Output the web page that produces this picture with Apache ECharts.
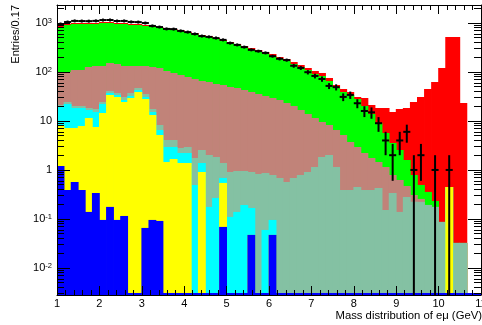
<!DOCTYPE html>
<html><head><meta charset="utf-8">
<script src="https://cdn.jsdelivr.net/npm/echarts@6/dist/echarts.min.js"></script>
<style>html,body{margin:0;padding:0;background:#fff}#c{width:482px;height:325px}</style>
</head><body><div id="c"></div>
<script>
// 60 bins of width 1/6 from 1 to 11 (lower edges)
const binEdges = ['1.00','1.17','1.33','1.50','1.67','1.83','2.00','2.17','2.33','2.50','2.67','2.83',
 '3.00','3.17','3.33','3.50','3.67','3.83','4.00','4.17','4.33','4.50','4.67','4.83',
 '5.00','5.17','5.33','5.50','5.67','5.83','6.00','6.17','6.33','6.50','6.67','6.83',
 '7.00','7.17','7.33','7.50','7.67','7.83','8.00','8.17','8.33','8.50','8.67','8.83',
 '9.00','9.17','9.33','9.50','9.67','9.83','10.00','10.17','10.33','10.50','10.67','10.83'];

// cumulative stack heights (as drawn by a THStack), top layer first
const sumRed = [869,954,1000,1000,1000,1000,1048,1048,1000,1000,954,954,910,869,829,
 791,754,720,655,625,569,543,494,450,410,373,339,309,281,256,233,202,184,160,139.5,121,
 104.8,95.4,75.4,54.3,45,39.1,30.9,29.5,21.2,18.4,18.4,15.3,17.6,18.4,24.4,30.9,45,62.5,120.7,518,518,23.3,0,0];
const sumGreen = [829,910,954,954,954,954,1000,1000,954,954,910,910,869,829,791,
 754,720,687,625,596,543,518,472,429,391,356,309,281,256,233,212,184,168,146,126.5,110,
 91,82.9,65.5,47.2,39.1,33.9,28.1,20.2,13.9,9.1,5.69,3.56,2.56,1.6,0.79,0.494,0.356,0.233,0.0869,0.449,0.0324,0.0324,0,0];
const sumBrown = [95.4,100,110,110,126.5,132.6,132.6,152.6,145.6,132.6,132.6,132.6,132.6,126.5,120.7,
 104.8,95.4,86.9,79.1,72,65.5,62.5,56.9,54.3,49.4,47.2,42.9,39.1,35.6,32.4,29.5,26.8,23.3,20.2,16.8,13.9,
 11.5,9.54,8.29,6.55,5.18,3.73,2.95,2.22,1.758,1.456,1.151,0.79,0.625,0.472,0.309,0.256,0.193,0.176,0.0869,0.449,0.0324,0.0324,0,0];
const sumTeal = [21.2,24.4,20.2,20.2,18.4,17.6,24.4,41,37.3,30.9,37.3,47.2,35.6,17.6,8.29,
 4.10,4.10,2.81,2.95,1.758,2.56,2.02,1.84,1.39,0.91,0.954,0.954,0.91,0.829,0.869,0.79,0.687,0.569,0.687,0.79,0.91,
 1.151,1.84,2.02,1.151,0.391,0.391,0.449,0.391,0.391,0.429,0.153,0.339,0.139,0.281,0.223,0.223,0.193,0.176,0.0869,0.449,0.0324,0.0324,0,0];
const sumCyan = [19.3,22.2,18.4,18.4,16.8,15.3,22.2,37.3,33.9,26.8,32.4,42.9,30.9,15.3,6.55,
 2.95,2.95,2.22,2.22,0.494,1.39,0.176,0.268,0.687,0.11,0.139,0.193,0.168,0,0.0596,0.0954,0,0,0,0,0,
 0,0,0,0,0,0,0,0,0,0,0,0,0,0,0,0,0,0,0,0.449,0,0,0,0];
const sumYellow = [8.29,7.2,7.2,7.9,11.5,7.5,14.6,33.9,30.9,24.4,29.5,39.1,28.1,13.3,5.18,
 1.456,1.677,1.389,1.389,0,0.91,0,0,0.543,0,0,0,0.0472,0,0,0.0472,0,0,0,0,0,
 0,0,0,0,0,0,0,0,0,0,0,0,0,0,0,0,0,0,0,0.449,0,0,0,0];
const sumBlue = [1.207,0.391,0.569,0.391,0.139,0.339,0.0954,0.176,0.0954,0.115,0,0,0.0655,0.0954,0.091,
 0,0,0,0,0,0,0,0,0.0687,0,0,0,0.0472,0,0,0.0472,0,0,0,0,0,
 0,0,0,0,0,0,0,0,0,0,0,0,0,0,0,0,0,0,0,0,0,0,0,0];

// observed data (entries per bin) and their errors
const dataCounts = [955,1046,1102,1095,1090,1104,1148,1152,1097,1101,1050,1043,998,871,826,
 757,750,689,652,597,541,520,492,452,389,357,322,283,266,245,210,186,175,134,121,99,
 83,72,52,49,31,34,23,16,15,9,4,2,4,6,1,2,0,1,0,1,0,0,0,0];
const dataErrors = [31,32,33,33,33,33,34,34,33,33,32,32,32,30,29,
 28,27,26,26,24,23,23,22,21,20,19,18,17,16,16,14,14,13,12,11,10,
 9.1,8.5,7.2,7,5.6,5.8,4.8,4,3.9,3,2,1.4,2,2.4,1,1.4,0,1,0,1,0,0,0,0];

const xTicks = [1,2,3,4,5,6,7,8,9,10,11];
const yMajorTicks = [0.01,0.1,1,10,100,1000];
const yTickBase = ['10','10','1','10','10','10'];
const yTickExp = ['-2','-1','','','2','3'];
const yMinorTicks = [0.003,0.004,0.005,0.006,0.007,0.008,0.009,
 0.02,0.03,0.04,0.05,0.06,0.07,0.08,0.09,0.2,0.3,0.4,0.5,0.6,0.7,0.8,0.9,
 2,3,4,5,6,7,8,9,20,30,40,50,60,70,80,90,200,300,400,500,600,700,800,900,2000];

const Y_MIN = 0.0028, Y_MAX = 2330;
const FONT = '"Liberation Sans", Arial, Helvetica, sans-serif';

function histSeries(name, arr, color, z, zeroLine) {
  return {
    type: 'custom', name, z, xAxisIndex: 0, yAxisIndex: 0,
    data: arr.map((v, i) => [i, v]),
    encode: {x: 0, y: 1},
    clip: true,
    renderItem: function (params, api) {
      const i = api.value(0), v = api.value(1);
      const w = api.size([1, 0])[0];
      const base = api.coord([i, Y_MIN]);
      if (!(v > 0)) {
        if (!zeroLine) return null;
        return {type: 'rect', shape: {x: base[0] - w / 2 - 0.3, y: base[1] - 2, width: w + 0.6, height: 2}, style: {fill: color}};
      }
      const top = api.coord([i, v]);
      return {type: 'rect', shape: {x: top[0] - w / 2 - 0.4, y: top[1], width: w + 0.8, height: base[1] - top[1]}, style: {fill: color}};
    }
  };
}

const dataSeries = {
  type: 'custom', name: 'data', z: 20, xAxisIndex: 0, yAxisIndex: 0,
  data: dataCounts.map((n, i) => [i, n, dataErrors[i]]),
  encode: {x: 0, y: 1},
  renderItem: function (params, api) {
    const i = api.value(0), n = api.value(1), e = api.value(2);
    if (!(n > 0)) return null;
    const w = api.size([1, 0])[0];
    const c = api.coord([i, n]);
    const hi = api.coord([i, Math.min(n + e, Y_MAX)]);
    const lo = (n - e) > Y_MIN ? api.coord([i, n - e]) : api.coord([i, Y_MIN]);
    return {type: 'group', children: [
      {type: 'line', shape: {x1: c[0] - w / 2, y1: c[1], x2: c[0] + w / 2, y2: c[1]}, style: {stroke: '#000', lineWidth: 2}},
      {type: 'line', shape: {x1: c[0], y1: Math.min(hi[1], c[1] - 1.5), x2: c[0], y2: Math.max(lo[1], c[1] + 1.5)}, style: {stroke: '#000', lineWidth: 2}}
    ]};
  }
};

const axisLineStyle = {show: true, lineStyle: {color: '#000', width: 1}};
const chart = echarts.init(document.getElementById('c'), null, {renderer: 'canvas'});
chart.setOption({
  animation: false,
  backgroundColor: '#fff',
  grid: {left: 57, right: 1, top: 5, bottom: 30, show: false, containLabel: false, outerBoundsMode: 'none'},
  xAxis: [
    {type: 'category', data: binEdges, boundaryGap: true, show: false, gridIndex: 0},
    {type: 'value', min: 1, max: 11, interval: 1, position: 'bottom', z: 10,
     axisLine: axisLineStyle, splitLine: {show: false},
     axisTick: {inside: true, length: 9, lineStyle: {color: '#000'}, customValues: xTicks},
     minorTick: {show: true, splitNumber: 5, length: 5, lineStyle: {color: '#000'}},
     axisLabel: {customValues: xTicks, margin: 3, fontSize: 11, fontFamily: FONT, color: '#000'}},
    {type: 'value', min: 1, max: 11, interval: 1, position: 'top', z: 10,
     axisLine: axisLineStyle, splitLine: {show: false},
     axisTick: {inside: true, length: 9, lineStyle: {color: '#000'}},
     minorTick: {show: true, splitNumber: 5, length: 5, lineStyle: {color: '#000'}},
     axisLabel: {show: false}}
  ],
  yAxis: [
    {type: 'log', logBase: 10, min: Y_MIN, max: Y_MAX, position: 'left', z: 10,
     axisLine: axisLineStyle, splitLine: {show: false},
     axisTick: {inside: true, length: 13, lineStyle: {color: '#000'}, customValues: yMajorTicks},
     axisLabel: {customValues: yMajorTicks, margin: 5, fontFamily: FONT, color: '#000',
       formatter: function (val) {
         let k = 0, best = 1e9;
         yMajorTicks.forEach((t, j) => { const d = Math.abs(Math.log10(t) - Math.log10(val)); if (d < best) { best = d; k = j; } });
         return yTickExp[k] ? '{b|' + yTickBase[k] + '}{s|' + yTickExp[k] + '}' : '{b|' + yTickBase[k] + '}';
       },
       rich: {b: {fontSize: 11, fontFamily: FONT, color: '#000'},
              s: {fontSize: 7.5, fontFamily: FONT, color: '#000', verticalAlign: 'top', padding: [0, 0, 4, 0]}}}},
    {type: 'log', logBase: 10, min: Y_MIN, max: Y_MAX, position: 'left', z: 10,
     axisLine: {show: false}, splitLine: {show: false}, axisLabel: {show: false},
     axisTick: {inside: true, length: 7, lineStyle: {color: '#000'}, customValues: yMinorTicks}},
    {type: 'log', logBase: 10, min: Y_MIN, max: Y_MAX, position: 'right', z: 10,
     axisLine: axisLineStyle, splitLine: {show: false}, axisLabel: {show: false},
     axisTick: {inside: true, length: 13, lineStyle: {color: '#000'}, customValues: yMajorTicks}},
    {type: 'log', logBase: 10, min: Y_MIN, max: Y_MAX, position: 'right', z: 10,
     axisLine: {show: false}, splitLine: {show: false}, axisLabel: {show: false},
     axisTick: {inside: true, length: 7, lineStyle: {color: '#000'}, customValues: yMinorTicks}}
  ],
  graphic: [
    {type: 'text', x: 16, y: 5, rotation: Math.PI / 2, z: 100,
     style: {text: 'Entries/0.17', fontSize: 11, fontFamily: FONT, fill: '#000', align: 'right', verticalAlign: 'middle', textAlign: 'right', textVerticalAlign: 'middle'}},
    {type: 'text', x: 482, y: 316, z: 100,
     style: {text: 'Mass distribution of e\u03bc (GeV)', fontSize: 11.3, fontFamily: FONT, fill: '#000', align: 'right', verticalAlign: 'middle', textAlign: 'right', textVerticalAlign: 'middle'}}
  ],
  series: [
    histSeries('red', sumRed, '#ff0000', 2),
    histSeries('green', sumGreen, '#00ff00', 3),
    histSeries('brown', sumBrown, '#c18379', 4),
    histSeries('teal', sumTeal, '#84c1a3', 5),
    histSeries('cyan', sumCyan, '#00ffff', 6),
    histSeries('yellow', sumYellow, '#ffff00', 7),
    histSeries('blue', sumBlue, '#0000ff', 8, true),
    dataSeries
  ]
});
</script></body></html>
